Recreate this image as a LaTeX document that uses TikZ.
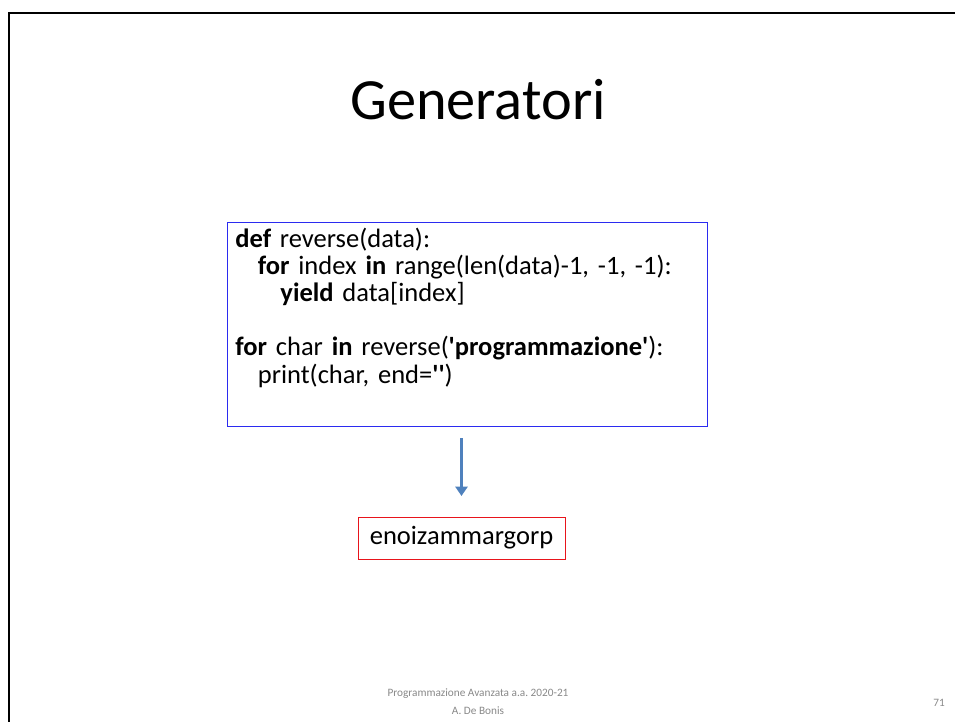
\documentclass[tikz,border=0pt]{standalone}
\usepackage{fontspec}
\setmainfont{Carlito}[Ligatures=TeXOff]
\usepackage{tikz}
\usetikzlibrary{arrows.meta}
\frenchspacing
\definecolor{framec}{HTML}{000000}
\definecolor{codeblue}{HTML}{2B2BF0}
\definecolor{outred}{HTML}{E8141B}
\definecolor{arrowc}{HTML}{4F81BD}
\definecolor{footc}{HTML}{898989}
\tikzset{
  frame/.style={draw=framec, line width=1.6pt},
  codebox/.style={draw=codeblue, line width=0.6pt, anchor=north west, inner xsep=6pt, inner ysep=4.5pt,
    align=left, text width=350pt, font=\fontsize{20}{20.4}\selectfont},
  outbox/.style={draw=outred, line width=0.6pt, minimum width=156pt, minimum height=31.6pt,
    font=\fontsize{20}{24}\selectfont},
  flow/.style={draw=arrowc, line width=2.2pt, -{Triangle[length=7pt,width=9pt]}},
  foot/.style={text=footc, font=\fontsize{8.5}{13.6}\selectfont, align=center},
}
\newcommand{\ind}[1]{\hspace*{#1}}

\begin{document}
\begin{tikzpicture}[x=0.754pt, y=-0.754pt]
  \useasboundingbox (0,0) rectangle (955,722);
  \fill[white] (0,0) rectangle (955,722);
  % slide frame
  \draw[frame] (9,722) -- (9,13) -- (955,13);
  % title
  \node[font=\fontsize{44}{50}\selectfont] (title) at (478,100) {Generatori};
  % code
  \node[codebox] (code) at (227,222) {%
    \textbf{def} reverse(data):\\
    \ind{17pt}\textbf{for} index \textbf{in} range(len(data)-1, -1, -1):\\
    \ind{34pt}\textbf{yield} data[index]\\
    \mbox{}\\
    \textbf{for} char \textbf{in} reverse(\textbf{'programmazione'}):\\
    \ind{17pt}print(char, end=\textbf{''})\\
    \rule[-8pt]{0pt}{8pt}};
  % result
  \node[outbox] (out) at (461.5,538) {enoizammargorp};
  \coordinate (top) at (461.5,438);
  \coordinate (tip) at (461.5,496);
  \draw[flow] (top) -- (tip);
  % footer
  \node[foot] (foot) at (478,702) {Programmazione Avanzata a.a. 2020-21\\A. De Bonis};
  \node[foot] (page) at (939,703) {71};
\end{tikzpicture}
\end{document}
